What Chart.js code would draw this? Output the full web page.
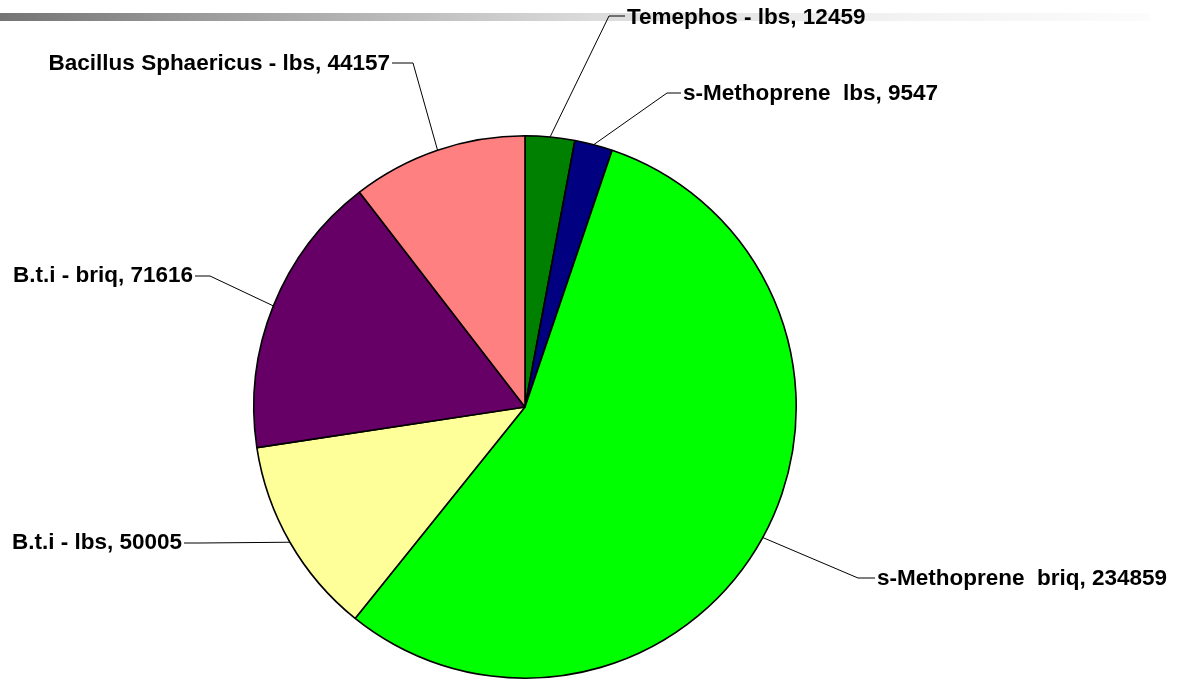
<!DOCTYPE html>
<html>
<head>
<meta charset="utf-8">
<title>Larvicide usage</title>
<script src="https://cdn.jsdelivr.net/npm/chart.js@4.4.0/dist/chart.umd.min.js"></script>
<style>
	body { margin: 0; background: #fff; }
	#wrap { position: relative; width: 1189px; height: 683px; }
</style>
</head>
<body>
<div id="wrap"><canvas id="pieChart"></canvas></div>
<script>
// chart data
const products = [
	'Temephos - lbs',
	's-Methoprene  lbs',
	's-Methoprene  briq',
	'B.t.i - lbs',
	'B.t.i - briq',
	'Bacillus Sphaericus - lbs'
];
const amounts = [12459, 9547, 234859, 50005, 71616, 44157];
const sliceColors = ['#008000', '#000080', '#00ff00', '#ffff99', '#660066', '#ff8080'];

// where each label's leader line bends (px), and which side the text sits on
const labelLayout = [
	{ ex: 609, ey: 16, side: 'right', hlen: 16, dy: 2 },
	{ ex: 667, ey: 93, side: 'right', hlen: 14, dy: 1 },
	{ ex: 858, ey: 578, side: 'right', hlen: 17, dy: 1 },
	{ ex: 200, ey: 543, side: 'left', hlen: 16, dy: 0 },
	{ ex: 210, ey: 276, side: 'left', hlen: 15, dy: 0 },
	{ ex: 413, ey: 63, side: 'left', hlen: 21, dy: 1 }
];

const topBar = {
	id: 'topBar',
	beforeDraw(chart) {
		const ctx = chart.ctx;
		const grad = ctx.createLinearGradient(0, 0, 1150, 0);
		grad.addColorStop(0, '#747474');
		grad.addColorStop(0.17, '#9a9a9a');
		grad.addColorStop(0.52, '#dcdcdc');
		grad.addColorStop(0.78, '#f2f2f2');
		grad.addColorStop(1, '#fcfcfc');
		ctx.save();
		ctx.fillStyle = grad;
		ctx.fillRect(0, 13, 1150, 8);
		ctx.restore();
	}
};

const leaderLabels = {
	id: 'leaderLabels',
	afterDatasetsDraw(chart) {
		const ctx = chart.ctx;
		const meta = chart.getDatasetMeta(0);
		ctx.save();
		ctx.strokeStyle = '#000';
		ctx.lineWidth = 1;
		ctx.fillStyle = '#000';
		ctx.font = 'bold 22.5px "Liberation Sans", Arial, sans-serif';
		ctx.textBaseline = 'middle';
		meta.data.forEach((arc, i) => {
			const p = arc.getProps(['x', 'y', 'startAngle', 'endAngle', 'outerRadius'], true);
			const mid = (p.startAngle + p.endAngle) / 2;
			const sx = p.x + Math.cos(mid) * p.outerRadius;
			const sy = p.y + Math.sin(mid) * p.outerRadius;
			const lay = labelLayout[i];
			const dir = lay.side === 'right' ? 1 : -1;
			const hx = lay.ex + dir * lay.hlen;

			ctx.beginPath();
			ctx.moveTo(sx, sy);
			ctx.lineTo(lay.ex, lay.ey);
			ctx.lineTo(hx, lay.ey);
			ctx.stroke();

			ctx.textAlign = lay.side === 'right' ? 'left' : 'right';
			ctx.fillText(products[i] + ', ' + amounts[i], hx + dir * 2, lay.ey + lay.dy);
		});
		ctx.restore();
	}
};

new Chart(document.getElementById('pieChart').getContext('2d'), {
	type: 'pie',
	data: {
		labels: products,
		datasets: [{
			data: amounts,
			backgroundColor: sliceColors,
			borderColor: '#000',
			borderWidth: 1.6
		}]
	},
	options: {
		responsive: true,
		maintainAspectRatio: false,
		animation: false,
		layout: {
			padding: { left: 0, right: 139, top: 135, bottom: 4 }
		},
		plugins: {
			legend: { display: false },
			tooltip: { enabled: false }
		}
	},
	plugins: [topBar, leaderLabels]
});
</script>
</body>
</html>
